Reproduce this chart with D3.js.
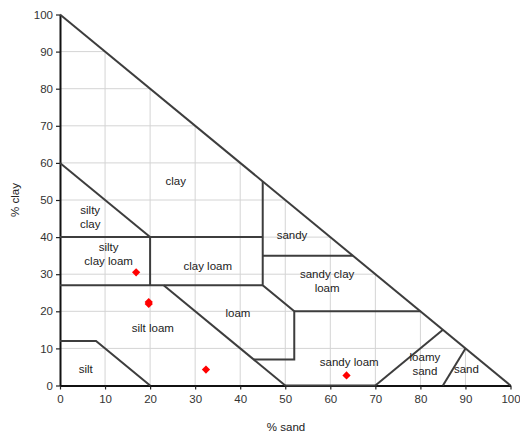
<!DOCTYPE html>
<html><head><meta charset="utf-8">
<script src="https://cdn.jsdelivr.net/npm/d3@7"></script>
<style>body{margin:0;background:#fff}svg{display:block}text{font-family:"Liberation Sans",Arial,sans-serif}</style>
</head><body><svg id="c" width="520" height="437"></svg>
<script>
const ticks = [0,10,20,30,40,50,60,70,80,90,100];
// boundary polylines [sand, clay]
const boundaries = [
  [[0,100],[100,0]],
  [[0,60],[20,40]],
  [[0,40],[45,40]],
  [[20,40],[20,27]],
  [[0,27],[45,27]],
  [[45,55],[45,27],[52,20],[52,7],[43,7]],
  [[45,35],[65,35]],
  [[52,20],[80,20]],
  [[23,27],[50,0]],
  [[0,12],[8,12],[20,0]],
  [[50,0],[70,0]],
  [[70,0],[85,15]],
  [[85,0],[90,10]]
];
const sampleSand = [16.9, 19.7, 19.7, 32.4, 63.6];
const sampleClay = [30.5, 22.5, 22.0, 4.3, 2.7];
const labels = [
  {t:["clay"], x:25.7, y:55.1},
  {t:["silty","clay"], x:6.7, y:45.5},
  {t:["silty","clay loam"], x:10.8, y:35.5},
  {t:["clay loam"], x:32.8, y:32.3},
  {t:["sandy"], x:51.5, y:40.6},
  {t:["sandy clay","loam"], x:59.3, y:28.3},
  {t:["loam"], x:39.5, y:19.6},
  {t:["silt loam"], x:20.6, y:15.5},
  {t:["silt"], x:5.7, y:4.5},
  {t:["sandy loam"], x:64.2, y:6.3},
  {t:["loamy","sand"], x:81.0, y:5.8},
  {t:["sand"], x:90.2, y:4.5}
];

const svg = d3.select("#c");
const x = d3.scaleLinear().domain([0,100]).range([60,510.5]);
const y = d3.scaleLinear().domain([0,100]).range([385.5,14.5]);

// grid clipped to triangle
const g = svg.append("g");
ticks.filter(v=>v>0 && v<100).forEach(v=>{
  g.append("line").attr("x1",x(0)).attr("x2",x(100-v)).attr("y1",y(v)).attr("y2",y(v))
    .attr("stroke","#d4d4d4").attr("stroke-width",1);
  g.append("line").attr("x1",x(v)).attr("x2",x(v)).attr("y1",y(0)).attr("y2",y(100-v))
    .attr("stroke","#d4d4d4").attr("stroke-width",1);
});

// axes
const xa = svg.append("g").attr("transform",`translate(0,${y(0)})`)
  .call(d3.axisBottom(x).tickValues(ticks).tickSize(4).tickSizeOuter(0));
const ya = svg.append("g").attr("transform",`translate(${x(0)},0)`)
  .call(d3.axisLeft(y).tickValues(ticks).tickSize(4).tickSizeOuter(0));
[xa,ya].forEach(a=>{
  a.select(".domain").attr("stroke","#111").attr("stroke-width",2);
  a.selectAll(".tick line").attr("stroke","#222").attr("stroke-width",1.2);
  a.selectAll(".tick text").attr("font-size",11.5).attr("fill","#333")
   .attr("font-family","Liberation Sans, Arial, sans-serif");
});
xa.selectAll(".tick text").attr("dy","0.95em");

// boundaries
const line = d3.line().x(d=>x(d[0])).y(d=>y(d[1]));
svg.append("g").selectAll("path").data(boundaries).join("path")
  .attr("d",line).attr("fill","none").attr("stroke","#3d3d3d").attr("stroke-width",2)
  .attr("stroke-linejoin","miter");

// labels
const lg = svg.append("g").attr("font-size",11.5).attr("fill","#222").attr("text-anchor","middle");
labels.forEach(l=>{
  const t = lg.append("text").attr("x",x(l.x)).attr("y",y(l.y));
  l.t.forEach((s,i)=>t.append("tspan").attr("x",x(l.x)).attr("dy",i===0?(-(l.t.length-1)*7+4)+"px":"14px").text(s));
});

// points
svg.append("g").selectAll("path").data(sampleSand).join("path")
  .attr("d",d3.symbol(d3.symbolSquare,34))
  .attr("transform",(d,i)=>`translate(${x(d)},${y(sampleClay[i])}) rotate(45)`)
  .attr("fill","#ff0000");

// axis titles
svg.append("text").attr("x",286).attr("y",431).attr("text-anchor","middle").attr("font-size",11.5).attr("fill","#222").text("% sand");
svg.append("text").attr("transform","translate(19,200) rotate(-90)").attr("text-anchor","middle").attr("font-size",11.5).attr("fill","#222").text("% clay");
</script></body></html>
